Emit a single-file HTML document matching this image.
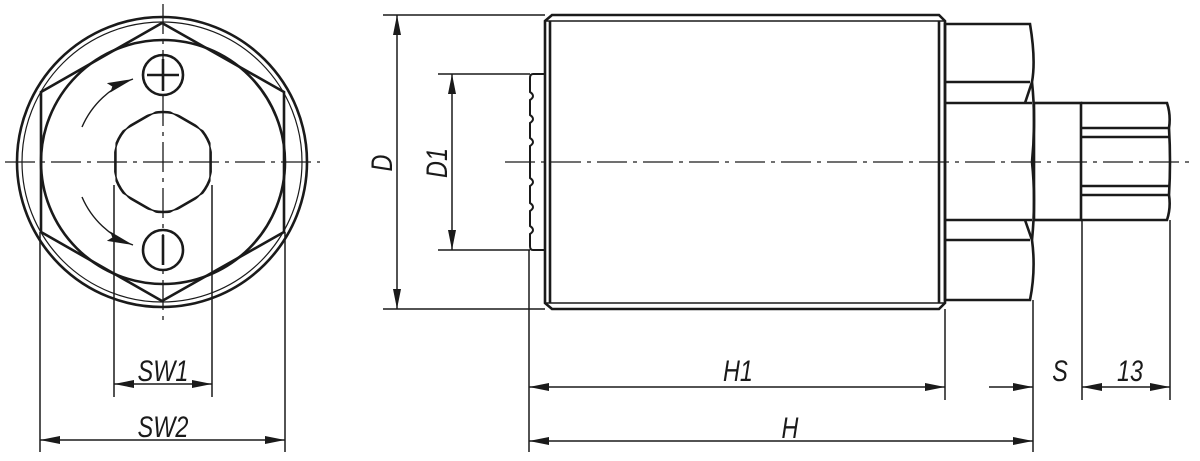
<!DOCTYPE html>
<html><head><meta charset="utf-8"><style>
html,body{margin:0;padding:0;background:#fff;}
svg{display:block}
text{font-family:"Liberation Sans",sans-serif;font-style:italic;font-size:30px;fill:#1a1a1a}
</style></head><body>
<svg width="1200" height="461" viewBox="0 0 1200 461" xmlns="http://www.w3.org/2000/svg">
<defs>
<marker id="a" viewBox="0 0 20 8" refX="20" refY="4" markerWidth="20" markerHeight="8" markerUnits="userSpaceOnUse" orient="auto-start-reverse"><path d="M0,0 L20,4 L0,8z" fill="#1a1a1a"/></marker>
<marker id="b" viewBox="0 0 26 12" refX="26" refY="6" markerWidth="26" markerHeight="12" markerUnits="userSpaceOnUse" orient="auto"><path d="M0,1 L26,6 L0,11 L4,6z" fill="#1a1a1a"/></marker>
<clipPath id="hc"><polygon points="163,107 210.6,134.5 210.6,189.5 163,217 115.4,189.5 115.4,134.5"/></clipPath>
<clipPath id="cc"><circle cx="163" cy="162" r="50"/></clipPath>
</defs>
<g stroke="#1a1a1a" fill="none">
<g stroke-width="2.6">
<circle cx="162" cy="162" r="145"/>
<circle cx="163" cy="162" r="122"/>
<polygon points="162,23 284,92 284,232 162,301 41,232 41,92"/>
<circle cx="163" cy="75" r="20"/>
<circle cx="163" cy="250" r="20"/>
<line x1="147" y1="75" x2="179" y2="75"/><line x1="163" y1="59" x2="163" y2="91"/>
<line x1="163" y1="235" x2="163" y2="265"/>
<polygon points="163,107 210.6,134.5 210.6,189.5 163,217 115.4,189.5 115.4,134.5" clip-path="url(#cc)"/>
<circle cx="163" cy="162" r="50" clip-path="url(#hc)"/>
</g>
<circle cx="162" cy="162" r="140" stroke-width="1.2"/>
<path d="M82,127 A88,88 0 0 1 133,79" stroke-width="1.4" marker-end="url(#b)"/>
<path d="M82,197 A88,88 0 0 0 133,245" stroke-width="1.4" marker-end="url(#b)"/>
<line x1="5" y1="162" x2="320" y2="162" stroke-width="1.3" stroke-dasharray="30,6,4,6"/>
<line x1="163" y1="4" x2="163" y2="320" stroke-width="1.3" stroke-dasharray="30,6,4,6"/>
<g stroke-width="1.5">
<line x1="114" y1="185" x2="114" y2="397"/><line x1="212" y1="185" x2="212" y2="397"/>
<line x1="40" y1="232" x2="40" y2="452"/><line x1="285" y1="232" x2="285" y2="452"/>
<line x1="114" y1="384" x2="212" y2="384" marker-start="url(#a)" marker-end="url(#a)"/>
<line x1="40" y1="440" x2="285" y2="440" marker-start="url(#a)" marker-end="url(#a)"/>
</g>
<g stroke-width="2.6">
<path d="M552,15 L939,15 L945,21 L945,303 L939,309 L552,309 L545,303 L545,21 Z"/>
<line x1="550" y1="21" x2="550" y2="303"/><line x1="939" y1="21" x2="939" y2="303"/>
<line x1="545" y1="21" x2="945" y2="21" stroke-width="1.6"/><line x1="545" y1="303" x2="945" y2="303" stroke-width="1.6"/>
<path d="M945,24 L1030,24 Q1036,60 1032,82 Q1036,120 1032,162 Q1036,200 1032,240 Q1036,270 1030,300 L945,300 Z"/>
<line x1="945" y1="82" x2="1030" y2="82"/><line x1="945" y1="103" x2="1032" y2="103"/>
<line x1="945" y1="220" x2="1032" y2="220"/><line x1="945" y1="240" x2="1030" y2="240"/>
<path d="M1025,103 L1032,82 M1025,220 L1032,240"/>
<rect x="1034" y="103" width="47" height="117"/>
<path d="M1081,103 L1167,103 Q1171,115 1169,128 Q1171,162 1169,195 Q1171,208 1167,220 L1081,220"/>
<line x1="1081" y1="128" x2="1169" y2="128"/><line x1="1081" y1="137" x2="1169" y2="137"/>
<line x1="1081" y1="186" x2="1169" y2="186"/><line x1="1081" y1="195" x2="1169" y2="195"/>
<path d="M545,74 L533,74 Q530,74 530,78 L530,92 Q536,96 530,100 L530,115 Q536,119 530,123 L530,138 Q536,142 530,146 L530,178 Q536,182 530,186 L530,203 Q536,207 530,211 L530,226 Q536,230 530,234 L530,246 Q530,250 533,250 L545,250" stroke-width="2"/>
</g>
<line x1="505" y1="162" x2="1195" y2="162" stroke-width="1.3" stroke-dasharray="30,6,4,6"/>
<g stroke-width="1.5">
<line x1="383" y1="15" x2="545" y2="15"/><line x1="383" y1="309" x2="545" y2="309"/>
<line x1="397" y1="15" x2="397" y2="309" marker-start="url(#a)" marker-end="url(#a)"/>
<line x1="438" y1="74" x2="530" y2="74"/><line x1="438" y1="250" x2="530" y2="250"/>
<line x1="452" y1="74" x2="452" y2="250" marker-start="url(#a)" marker-end="url(#a)"/>
<line x1="529" y1="250" x2="529" y2="452"/>
<line x1="945" y1="309" x2="945" y2="400"/>
<line x1="1033" y1="300" x2="1033" y2="452"/>
<line x1="1082" y1="220" x2="1082" y2="400"/>
<line x1="1170" y1="220" x2="1170" y2="400"/>
<line x1="529" y1="387" x2="945" y2="387" marker-start="url(#a)" marker-end="url(#a)"/>
<line x1="529" y1="441" x2="1033" y2="441" marker-start="url(#a)" marker-end="url(#a)"/>
<line x1="989" y1="387" x2="1033" y2="387" marker-end="url(#a)"/>
<line x1="1082" y1="387" x2="1170" y2="387" marker-start="url(#a)" marker-end="url(#a)"/>
</g>
</g>
<text x="163" y="381" text-anchor="middle" transform="translate(163 0) scale(0.78 1) translate(-163 0)">SW1</text>
<text x="163" y="437" text-anchor="middle" transform="translate(163 0) scale(0.78 1) translate(-163 0)">SW2</text>
<text x="738" y="381" text-anchor="middle" transform="translate(738 0) scale(0.78 1) translate(-738 0)">H1</text>
<text x="790" y="438" text-anchor="middle" transform="translate(790 0) scale(0.78 1) translate(-790 0)">H</text>
<text x="1060" y="381" text-anchor="middle" transform="translate(1060 0) scale(0.78 1) translate(-1060 0)">S</text>
<text x="1130" y="381" text-anchor="middle" transform="translate(1130 0) scale(0.78 1) translate(-1130 0)">13</text>
<text transform="translate(392 163) rotate(-90) scale(0.78 1)" text-anchor="middle">D</text>
<text transform="translate(447 163) rotate(-90) scale(0.78 1)" text-anchor="middle">D1</text>
</svg>
</body></html>
